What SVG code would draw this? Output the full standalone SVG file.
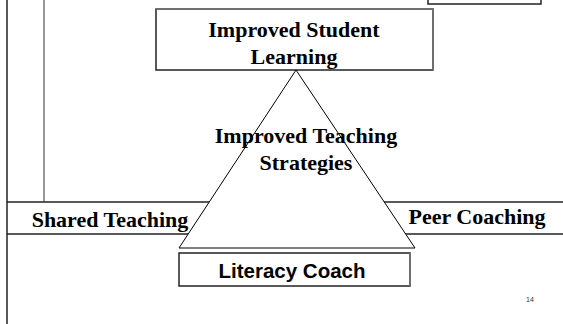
<svg xmlns="http://www.w3.org/2000/svg" width="563" height="324" viewBox="0 0 563 324">
  <style>
    .serif { font-family: "Liberation Serif", "Times New Roman", serif; font-weight: bold; font-size: 22px; fill: #000; text-anchor: middle; }
    .sans { font-family: "Liberation Sans", Arial, sans-serif; font-weight: bold; font-size: 20.5px; fill: #000; text-anchor: middle; }
    .dark { stroke: #222; stroke-width: 1.5; fill: none; }
    .grey { stroke: #777; stroke-width: 1.5; fill: none; }
  </style>

  <rect x="0" y="0" width="563" height="324" fill="#fff"/>

  <!-- frame lines -->
  <g id="frame">
    <line class="dark" x1="7" y1="0" x2="7" y2="324" stroke-width="2"/>
    <line class="grey" x1="44" y1="0" x2="44" y2="202"/>
  </g>

  <!-- horizontal band holding the two side labels -->
  <g id="band">
    <line class="dark" x1="7" y1="202" x2="563" y2="202"/>
    <line class="dark" x1="7" y1="234" x2="563" y2="234"/>
  </g>

  <!-- partial box at the top right -->
  <g id="corner-box">
    <rect class="dark" x="428" y="-4" width="113" height="8"/>
  </g>

  <!-- outcome box -->
  <g id="student-learning">
    <rect x="156" y="9" width="277" height="61" fill="#fff" stroke="#222" stroke-width="1.5"/>
    <polyline class="grey" points="156,9 433,9 433,70"/>
    <text class="serif" x="294" y="37">Improved Student</text>
    <text class="serif" x="294" y="64">Learning</text>
  </g>

  <!-- triangle -->
  <g id="triangle">
    <polygon points="296,70 179,248 415,248" fill="#fff" stroke="#000" stroke-width="1"/>
  </g>

  <g id="teaching-strategies">
    <text class="serif" x="306" y="143">Improved Teaching</text>
    <text class="serif" x="306" y="170">Strategies</text>
  </g>

  <g id="shared-teaching">
    <text class="serif" x="110" y="227">Shared Teaching</text>
  </g>

  <g id="peer-coaching">
    <text class="serif" x="477" y="224">Peer Coaching</text>
  </g>

  <g id="literacy-coach">
    <rect x="179" y="253" width="231" height="33" fill="#fff" stroke="#222" stroke-width="1.5"/>
    <line class="grey" x1="410" y1="253" x2="410" y2="286"/>
    <text class="sans" x="292" y="278">Literacy Coach</text>
  </g>

  <g id="page-number">
    <text x="530" y="302" font-family="Liberation Sans, Arial, sans-serif" font-size="7" fill="#333" text-anchor="middle">14</text>
  </g>

  <g id="connectors"></g>
</svg>
